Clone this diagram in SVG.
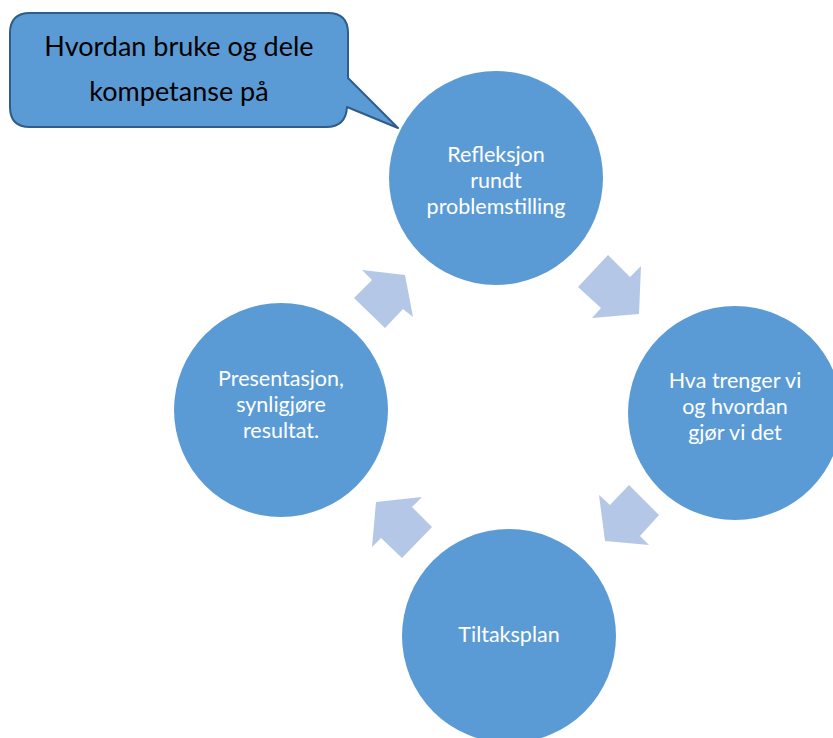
<svg xmlns="http://www.w3.org/2000/svg" width="833" height="738" viewBox="0 0 833 738">
  <style>
    .node { fill: #5B9BD5; }
    .label { fill: #FFFFFF; font-family: Lato, "Open Sans", "Liberation Sans", sans-serif; font-size: 21.5px; text-anchor: middle; }
    .arrow { fill: #B4C7E7; }
    .callout { fill: #5B9BD5; stroke: #2F5C8A; stroke-width: 2; stroke-linejoin: round; }
    .callout-text { fill: #000000; font-family: Lato, "Open Sans", "Liberation Sans", sans-serif; font-size: 27px; text-anchor: middle; }
  </style>

  <rect width="833" height="738" fill="#FFFFFF"/>

  <!-- Block arrows between the cycle steps -->
  <g id="connectors">
    <polygon class="arrow" points="608,255 630,277 641,266 639,314 592,318 601,308 578,287"/>
    <polygon class="arrow" points="629,485 659,515 640,536 649,545 605,541 599,495 610,505"/>
    <polygon class="arrow" points="432,527 402,558 381,538 372,547 376,502 422,497 412,507"/>
    <polygon class="arrow" points="385,328 354,298 372,280 362,270 405,275 413,317 403,309"/>
  </g>

  <g id="callout">
    <path class="callout" d="M30,13 H328 Q348,13 348,33 V78 L398,128 L347,107 Q346,127 326,127 H30 Q10,127 10,107 V33 Q10,13 30,13 Z"/>
    <text class="callout-text" x="179" y="56">Hvordan bruke og dele</text>
    <text class="callout-text" x="179" y="101">kompetanse på</text>
  </g>

  <g id="node-refleksjon">
    <circle class="node" cx="496" cy="178" r="107"/>
    <text class="label" x="496" y="162">Refleksjon</text>
    <text class="label" x="496" y="188">rundt</text>
    <text class="label" x="496" y="214">problemstilling</text>
  </g>

  <g id="node-hva-trenger">
    <circle class="node" cx="735" cy="413" r="107"/>
    <text class="label" x="735" y="388">Hva trenger vi</text>
    <text class="label" x="735" y="414">og hvordan</text>
    <text class="label" x="735" y="440">gjør vi det</text>
  </g>

  <g id="node-tiltaksplan">
    <circle class="node" cx="509" cy="636" r="107"/>
    <text class="label" x="509" y="642">Tiltaksplan</text>
  </g>

  <g id="node-presentasjon">
    <circle class="node" cx="281" cy="410" r="107"/>
    <text class="label" x="281" y="386">Presentasjon,</text>
    <text class="label" x="281" y="412">synligjøre</text>
    <text class="label" x="281" y="438">resultat.</text>
  </g>
</svg>
